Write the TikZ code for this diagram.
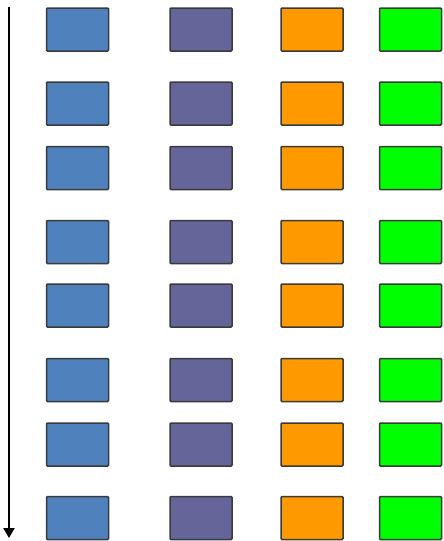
\documentclass[tikz,border=0pt]{standalone}
\usetikzlibrary{arrows.meta}
\definecolor{cblue}{HTML}{4F81BD}
\definecolor{cpurple}{HTML}{65659A}
\definecolor{corange}{HTML}{FF9900}
\definecolor{cgreen}{HTML}{00FF00}
\definecolor{cedge}{HTML}{3A3A3A}
\begin{document}
\begin{tikzpicture}[x=1pt,y=-1pt,
  box/.style={draw=cedge, line width=1.5pt, rounded corners=1pt, inner sep=0pt, minimum width=62pt, minimum height=43pt},
  timeline/.style={line width=2pt, -{Triangle[length=10pt,width=11pt]}}]
\useasboundingbox (0,0) rectangle (444,541);
\foreach \r/\y in {1/29.5,2/103.5,3/168,4/242,5/305.5,6/380,7/444.5,8/518}{
  \node[box, fill=cblue] (b\r) at (77.5,\y) {};
  \node[box, fill=cpurple] (p\r) at (201,\y) {};
  \node[box, fill=corange] (o\r) at (312,\y) {};
  \node[box, fill=cgreen] (g\r) at (410.5,\y) {};
}
\coordinate (top) at (9,7);
\coordinate (bot) at (9,538);
\draw[timeline] (top) -- (bot);
\end{tikzpicture}
\end{document}
